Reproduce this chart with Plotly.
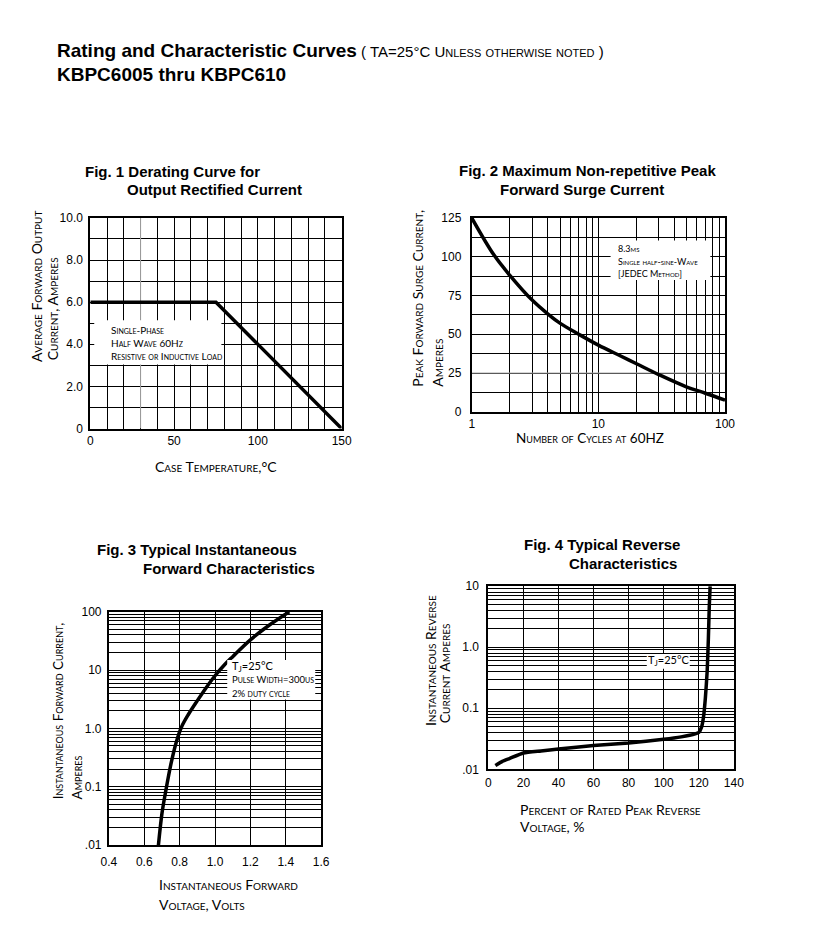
import plotly.graph_objects as go

W, H = 832, 933          # browser window
MARGIN = 8               # default body margin of the html page
FW, FH = W - 2 * MARGIN, H - 2 * MARGIN

# ---------------- data ----------------
derate_temp = [0, 75, 150]
derate_current = [6.0, 6.0, 0.0]

surge_cycles = [1, 1.5, 2, 3, 4, 5, 7, 10, 15, 20, 30, 50, 70, 100]
surge_current = [125, 101, 88, 72, 63, 57, 50, 43, 36, 31, 24, 16, 12, 7.5]

fwd_voltage = [0.68, 0.70, 0.72, 0.75, 0.78, 0.81, 0.85, 0.90, 0.95, 1.00, 1.05, 1.10, 1.20, 1.30, 1.42]
fwd_current = [0.01, 0.035, 0.08, 0.24, 0.57, 1.05, 1.75, 3.0, 5.0, 8.0, 12, 17, 33, 57, 100]

rev_pct = [4, 8, 12, 20, 30, 40, 60, 80, 100, 110, 118, 120, 121.6, 122.7, 123.8, 124.8, 125.5, 126.0, 126.5]
rev_current = [0.0115, 0.0135, 0.015, 0.0185, 0.020, 0.0215, 0.0245, 0.027, 0.031, 0.034, 0.038,
               0.040, 0.049, 0.071, 0.15, 0.40, 1.4, 4.6, 10]

# axis ranges and tick labels
fig1_xrange = [0, 150]
fig1_yrange = [0, 10]
fig1_xticks = [0, 50, 100, 150]
fig1_yticks = [0, 2, 4, 6, 8, 10]
fig1_ytext = ["0", "2.0", "4.0", "6.0", "8.0", "10.0"]
fig2_xrange = [1, 100]
fig2_yrange = [0, 125]
fig2_xticks = [1, 10, 100]
fig2_xtext = ["1", "10", "100"]
fig2_yticks = [0, 25, 50, 75, 100, 125]
fig3_xticks = [0.4, 0.6, 0.8, 1.0, 1.2, 1.4, 1.6]
fig3_xtext = ["0.4", "0.6", "0.8", "1.0", "1.2", "1.4", "1.6"]
fig3_yticks = [0.01, 0.1, 1, 10, 100]
fig3_ytext = [".01", "0.1", "1.0", "10", "100"]
fig4_xticks = [0, 20, 40, 60, 80, 100, 120, 140]
fig4_yticks = [0.01, 0.1, 1, 10]
fig4_ytext = [".01", "0.1", "1.0", "10"]


def log_minor(e0, e1):
    return [d * 10 ** e for e in range(e0, e1) for d in range(2, 10)]


def px(x):
    return (x - MARGIN) / FW


def py(y):
    return 1 - (y - MARGIN) / FH


TICKFONT = dict(family="Liberation Sans Narrow, Arial Narrow, Liberation Sans", size=12, color="black")
SC = dict(family="Lato, Noto Sans, sans-serif", size=14, color="black", variant="small-caps")
BOLD = dict(family="Liberation Sans, Arial", size=15, color="black")

fig = go.Figure()
line = dict(color="black", width=3.5)
fig.add_trace(go.Scatter(x=derate_temp, y=derate_current, mode="lines", line=line, xaxis="x", yaxis="y"))
fig.add_trace(go.Scatter(x=surge_cycles, y=surge_current, mode="lines",
                         line=dict(line, shape="spline", smoothing=1.0), xaxis="x2", yaxis="y2"))
fig.add_trace(go.Scatter(x=fwd_voltage, y=fwd_current, mode="lines",
                         line=dict(line, shape="spline", smoothing=1.0), xaxis="x3", yaxis="y3"))
fig.add_trace(go.Scatter(x=rev_pct, y=rev_current, mode="lines",
                         line=dict(line, shape="spline", smoothing=0.5), xaxis="x4", yaxis="y4"))

grid_minor = dict(showgrid=True, gridcolor="black", gridwidth=1)
common = dict(showline=True, linecolor="black", linewidth=2, mirror=True, showgrid=True,
              gridcolor="black", gridwidth=1, zeroline=False, ticks="", tickfont=TICKFONT,
              fixedrange=True)

layout = dict(
    width=FW, height=FH, margin=dict(l=0, r=0, t=0, b=0), showlegend=False,
    paper_bgcolor="white", plot_bgcolor="white",
    xaxis=dict(common, domain=[px(84), px(341)], anchor="y", range=fig1_xrange,
               tickvals=fig1_xticks, minor=dict(grid_minor, dtick=10, tick0=0), ticklabelstandoff=0),
    yaxis=dict(common, domain=[py(428), py(214)], anchor="x", range=fig1_yrange,
               tickvals=fig1_yticks, ticktext=fig1_ytext, minor=dict(grid_minor, dtick=1, tick0=0),
               ticklabelstandoff=3),
    xaxis2=dict(common, domain=[px(474), px(733)], anchor="y2", type="log", range=[0, 2],
                tickvals=fig2_xticks, ticktext=fig2_xtext,
                minor=dict(grid_minor, tickvals=log_minor(0, 2)), ticklabelstandoff=0),
    yaxis2=dict(common, domain=[py(411), py(214)], anchor="x2", range=fig2_yrange,
                tickvals=fig2_yticks, minor=dict(grid_minor, dtick=12.5, tick0=0), ticklabelstandoff=6),
    xaxis3=dict(common, domain=[px(103), px(320)], anchor="y3", range=[0.4, 1.6],
                tickvals=fig3_xticks, ticktext=fig3_xtext, ticklabelstandoff=4),
    yaxis3=dict(common, domain=[py(851), py(614)], anchor="x3", type="log", range=[-2, 2],
                tickvals=fig3_yticks, ticktext=fig3_ytext,
                minor=dict(grid_minor, tickvals=log_minor(-2, 2)), ticklabelstandoff=3),
    xaxis4=dict(common, domain=[px(491), px(742)], anchor="y4", range=[0, 140],
                tickvals=fig4_xticks, ticklabelstandoff=1),
    yaxis4=dict(common, domain=[py(774), py(588)], anchor="x4", type="log", range=[-2, 1],
                tickvals=fig4_yticks, ticktext=fig4_ytext,
                minor=dict(grid_minor, tickvals=log_minor(-2, 1)), ticklabelstandoff=5),
)

shapes = [
    # gray gridlines as in the scan
    dict(type="line", xref="x", yref="y", x0=30, x1=30, y0=fig1_yrange[0], y1=fig1_yrange[1],
         line=dict(color="#a8a8a8", width=1), layer="between"),
    dict(type="line", xref="x2", yref="y2", x0=fig2_xrange[0], x1=fig2_xrange[1], y0=25, y1=25,
         line=dict(color="#a8a8a8", width=1), layer="between"),
]
# white label boxes
for (x0, y0, x1, y1) in [(88, 318, 218, 363), (616, 237, 718, 277), (224, 663, 314, 703), (653, 657, 697, 672)]:
    shapes.append(dict(type="rect", xref="paper", yref="paper", x0=px(x0), x1=px(x1), y0=py(y1), y1=py(y0),
                       fillcolor="white", line=dict(width=0), layer="above"))
layout["shapes"] = shapes

ann = []


def text(x, y, t, font, xanchor="left", yanchor="middle", angle=0):
    ann.append(dict(x=px(x), y=py(y), xref="paper", yref="paper", text=t, showarrow=False,
                    font=font, xanchor=xanchor, yanchor=yanchor, textangle=angle, align="left"))


# main title
text(48, 44, "<b>Rating and Characteristic Curves</b>", dict(BOLD, size=19))
text(359, 45, "( TA=25°C <span style='font-variant:small-caps'>Unless otherwise noted</span> )",
     dict(family="Liberation Sans Narrow, Liberation Sans", size=15, color="black"))
text(48, 68, "<b>KBPC6005 thru KBPC610</b>", dict(BOLD, size=19))

# figure titles
text(77, 167, "<b>Fig. 1 Derating Curve for</b>", BOLD)
text(119, 185, "<b>Output Rectified Current</b>", BOLD)
text(459, 166, "<b>Fig. 2 Maximum Non-repetitive Peak</b>", BOLD)
text(501, 185, "<b>Forward Surge Current</b>", BOLD)
text(89, 551, "<b>Fig. 3 Typical Instantaneous</b>", BOLD)
text(136, 570, "<b>Forward Characteristics</b>", BOLD)
text(525, 546, "<b>Fig. 4 Typical Reverse</b>", BOLD)
text(571, 565, "<b>Characteristics</b>", BOLD)

# axis titles
text(29, 363, "Average Forward Output", SC, "center", "bottom", -90)
text(45, 361, "Current, Amperes", SC, "center", "bottom", -90)
text(213, 466, "Case Temperature,°C", SC, "center")

text(419, 387, "Peak Forward Surge Current,", SC, "center", "bottom", -90)
text(439, 387, "Amperes", SC, "center", "bottom", -90)
text(595, 438, "Number of Cycles at 60HZ", dict(SC, size=13.5), "center")

SC3 = dict(SC, size=13.5)
text(51, 807, "Instantaneous Forward Current,", SC3, "center", "bottom", -90)
text(70, 807, "Amperes", SC3, "center", "bottom", -90)
text(152, 891, "Instantaneous Forward", SC)
text(152, 911, "Voltage, Volts", SC)

text(432, 732, "Instantaneous Reverse", SC, "center", "bottom", -90)
text(447, 729, "Current Amperes", SC, "center", "bottom", -90)
text(521, 815, "Percent of Rated Peak Reverse", SC)
text(521, 832, "Voltage, %", SC)

# in-plot notes
NOTE = dict(SC, size=10)
text(103, 328, "Single-Phase", NOTE)
text(103, 341, "Half Wave 60Hz", NOTE)
text(103, 354, "Resistive or Inductive Load", NOTE)

NOTE2 = dict(SC, size=9)
text(622, 245, "8.3ms", NOTE2)
text(622, 258, "Single half-sine-Wave", NOTE2)
text(622, 271, "[JEDEC Method]", NOTE2)

NOTE3 = dict(SC, size=9.5)
text(227, 670, "T<sub>J</sub>=25°C", dict(SC, size=11))
text(227, 683, "Pulse Width=300us", NOTE3)
text(227, 697, "2% duty cycle", NOTE3)

text(675, 664, "T<sub>J</sub>=25°C", dict(SC, size=11), "center")

layout["annotations"] = ann
fig.update_layout(**layout)
fig.write_html("out.html", config={"displayModeBar": False})
